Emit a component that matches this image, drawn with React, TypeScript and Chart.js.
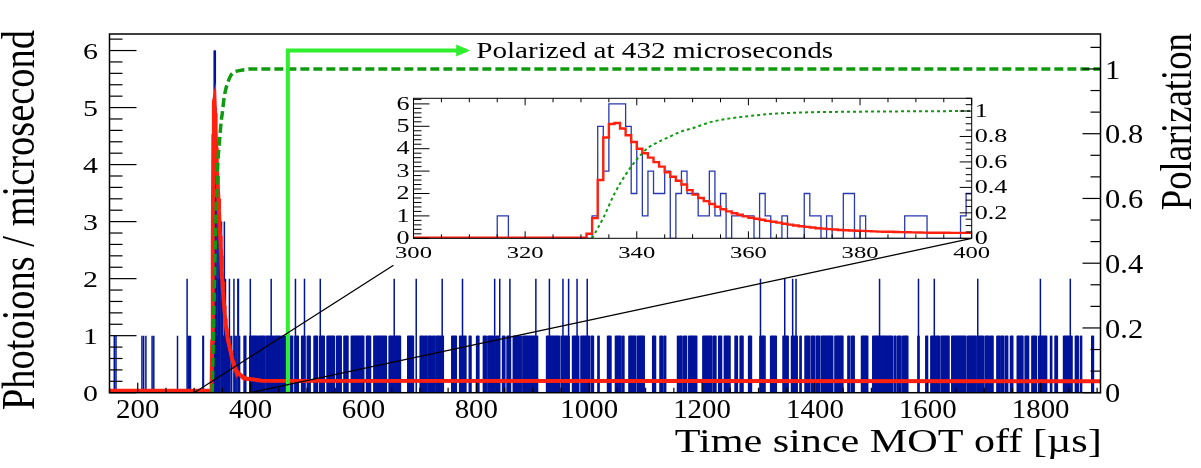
import React, { useEffect, useRef } from "react";
import { Chart, registerables } from "chart.js";

Chart.register(...registerables);

// ---------------- data ----------------
const X_MIN = 150;
const X_MAX = 1906;
const Y_MAX = 6.29;
const POL_MAX = 1.108;

const xTickValues = [200, 400, 600, 800, 1000, 1200, 1400, 1600, 1800];
const yTickValues = [0, 1, 2, 3, 4, 5, 6];
const polTickValues = [0, 0.2, 0.4, 0.6, 0.8, 1];
const polTickLabels = ["0", "0.2", "0.4", "0.6", "0.8", "1"];

const insetXTicks = [300, 320, 340, 360, 380, 400];
const insetYTicks = [0, 1, 2, 3, 4, 5, 6];
const insetPolTicks = [0, 0.2, 0.4, 0.6, 0.8, 1];
const insetPolLabels = ["0", "0.2", "0.4", "0.6", "0.8", "1"];

// photoion counts per 1 µs bin, 300..399 µs (the zoomed window)
const INSET_T0 = 300;
const INSET_T1 = 400;
const insetCounts = [
  0, 0, 0, 0, 0, 0, 0, 0, 0, 0, 0, 0, 0, 0, 0, 1, 1, 0, 0, 0,
  0, 0, 0, 0, 0, 0, 0, 0, 0, 0, 0, 0, 1, 5, 3, 6, 6, 6, 5, 2,
  4, 1, 3, 2, 2, 3, 0, 2, 3, 2, 2, 1, 1, 3, 1, 2, 0, 1, 1, 1,
  1, 0, 2, 1, 0, 0, 1, 0, 0, 0, 2, 1, 1, 0, 1, 0, 0, 2, 2, 0,
  1, 0, 0, 0, 0, 0, 0, 0, 1, 1, 1, 1, 0, 0, 0, 0, 0, 0, 1, 2,
];
// isolated single-count bins outside the window (µs)
const singleBins = [158, 161, 207, 210, 214, 225, 228, 270, 289, 291, 293];
// bins holding two photoions outside the window (µs)
const twoBins = [
  287, 436, 479, 495, 523, 654, 693, 739, 775, 832, 841, 859, 905, 929, 953, 963,
  978, 996, 1303, 1346, 1360, 1366, 1514, 1583, 1611, 1688, 1799, 1852,
];
// stretches of consecutive one-count bins [first, last] (µs)
const oneRuns: [number, number][] = [
  [400, 412], [414, 425], [427, 440], [442, 452], [454, 462], [470, 474], [478, 484],
  [490, 496], [500, 505], [512, 518], [522, 530], [535, 548], [552, 560], [565, 572],
  [578, 600], [605, 612], [618, 640], [645, 650], [651, 665], [678, 688], [700, 706],
  [708, 712], [714, 720], [722, 726], [728, 735], [736, 741], [756, 764], [770, 781],
  [787, 790], [800, 804], [812, 817], [820, 830], [834, 841], [846, 850], [854, 860],
  [865, 879], [882, 908], [924, 947], [950, 964], [970, 981], [985, 1000], [1003, 1007],
  [1015, 1017], [1032, 1038], [1046, 1056], [1059, 1061], [1070, 1082], [1085, 1097],
  [1112, 1117], [1125, 1129], [1132, 1135], [1156, 1158], [1160, 1164], [1167, 1172],
  [1176, 1190], [1201, 1217], [1220, 1224], [1229, 1234], [1239, 1249], [1258, 1262],
  [1267, 1272], [1282, 1287], [1302, 1311], [1321, 1331], [1343, 1352], [1358, 1368],
  [1373, 1375], [1382, 1390], [1393, 1399], [1402, 1408], [1411, 1431], [1435, 1449],
  [1458, 1461], [1464, 1469], [1482, 1493], [1502, 1537], [1540, 1543], [1546, 1552],
  [1555, 1564], [1582, 1584], [1596, 1599], [1605, 1620], [1623, 1637], [1642, 1667],
  [1670, 1685], [1687, 1698], [1701, 1709], [1711, 1715], [1722, 1727], [1729, 1734],
  [1737, 1741], [1746, 1750], [1758, 1768], [1772, 1778], [1784, 1792], [1796, 1810],
  [1817, 1819], [1825, 1829], [1840, 1855], [1861, 1866], [1870, 1872], [1890, 1893],
];

// fitted rate (photoions / µs)
const fitPreLevel = 0.035;
const fitDecayT0 = 330; // first µs of the per-µs fit values below
const fitDecay = [
  0.03, 0.2, 0.9, 2.6, 4.5, 5.1, 5.15, 4.9, 4.6, 4.3, 4.0, 3.8, 3.6, 3.4, 3.2, 2.95,
  2.75, 2.57, 2.4, 2.15, 1.95, 1.8, 1.66, 1.53, 1.41, 1.3, 1.2, 1.12, 1.05, 0.98, 0.92,
  0.87, 0.83, 0.78, 0.74, 0.7, 0.65, 0.61, 0.57, 0.54, 0.51, 0.48, 0.45, 0.43, 0.41,
  0.39, 0.37, 0.36, 0.35, 0.34, 0.33, 0.32, 0.31, 0.3, 0.295, 0.29, 0.28, 0.275, 0.27,
  0.265, 0.26, 0.255, 0.25, 0.25, 0.245, 0.245, 0.24, 0.24, 0.24, 0.24, 0.24,
];
const fitTailT = [420, 1906];
const fitTailY = [0.21, 0.2];

// polarization curve
const polT = [332, 334, 336, 338, 340, 342, 344, 346, 348, 350, 353, 356, 360, 365, 371, 380, 390, 400, 1906];
const polV = [0, 0.16, 0.35, 0.5, 0.62, 0.71, 0.76, 0.8, 0.84, 0.865, 0.91, 0.937, 0.96, 0.98, 0.99, 0.995, 0.998, 1.0, 1.0];

// "polarized" marker
const markerT = 466;
const markerLevel = 6.0;
const markerArrowEndT = 782;
const markerText = "Polarized at 432 microseconds";

// ---------------- styles ----------------
const FONT = '"Liberation Serif", "Times New Roman", serif';
const BLUE = "#00149a";
const BLUE_THIN = "#2838b0";
const RED = "#ff2010";
const DGREEN = "#0f9a0f";
const LGREEN = "#2eee2e";

// main layout (pixels on the 1201x468 page)
const MAIN_PAD = { left: 109.5, right: 100.5, top: 34, bottom: 75.3 };
// inset placement
const INSET_LEFT = 370;
const INSET_TOP = 88;
const INSET_W = 650;
const INSET_H = 180;
const INSET_PAD = { left: 43.5, right: 48.3, top: 10.3, bottom: 29.7 };

type TextOpts = {
  size: number;
  align?: CanvasTextAlign;
  baseline?: CanvasTextBaseline;
  sx?: number;
  sy?: number;
  rot?: number;
  width?: number;
};

function drawText(ctx: CanvasRenderingContext2D, s: string, x: number, y: number, o: TextOpts) {
  ctx.save();
  ctx.font = `${o.size}px ${FONT}`;
  let kx = o.sx ?? 1;
  if (o.width) kx = o.width / ctx.measureText(s).width;
  ctx.translate(x, y);
  if (o.rot) ctx.rotate(o.rot);
  ctx.scale(kx, o.sy ?? 1);
  ctx.textAlign = o.align ?? "center";
  ctx.textBaseline = o.baseline ?? "middle";
  ctx.fillStyle = "#000";
  ctx.fillText(s, 0, 0);
  ctx.restore();
}

function seg(ctx: CanvasRenderingContext2D, x1: number, y1: number, x2: number, y2: number) {
  ctx.beginPath();
  ctx.moveTo(x1, y1);
  ctx.lineTo(x2, y2);
  ctx.stroke();
}

function buildCounts(): number[] {
  const c = new Array(X_MAX - X_MIN).fill(0);
  for (const [a, b] of oneRuns) for (let t = a; t <= b; t++) c[t - X_MIN] = 1;
  for (const t of singleBins) c[t - X_MIN] = 1;
  for (const t of twoBins) c[t - X_MIN] = 2;
  insetCounts.forEach((v, i) => (c[INSET_T0 + i - X_MIN] = v));
  return c;
}

const mainDecor = {
  id: "mainDecor",
  afterDraw(chart: any) {
    const { ctx, chartArea: a, scales } = chart;
    const xs = scales.x, ys = scales.y, ps = scales.y2;
    ctx.save();

    // zoom connectors
    ctx.strokeStyle = "#000";
    ctx.lineWidth = 1.3;
    const iaL = INSET_LEFT + INSET_PAD.left;
    const iaR = INSET_LEFT + INSET_W - INSET_PAD.right;
    const iaB = INSET_TOP + INSET_H - INSET_PAD.bottom;
    seg(ctx, xs.getPixelForValue(INSET_T0), a.bottom, iaL - 20, iaB + 27);
    seg(ctx, xs.getPixelForValue(INSET_T1), a.bottom, iaR, iaB);

    // arrow head + label
    const ax = xs.getPixelForValue(markerArrowEndT);
    const ay = ys.getPixelForValue(markerLevel);
    ctx.fillStyle = LGREEN;
    ctx.beginPath();
    ctx.moveTo(ax + 4, ay);
    ctx.lineTo(ax - 10, ay - 6);
    ctx.lineTo(ax - 10, ay + 6);
    ctx.closePath();
    ctx.fill();
    drawText(ctx, markerText, ax + 10, ay + 1, { size: 24, align: "left", width: 357 });

    // frame
    ctx.strokeStyle = "#000";
    ctx.lineWidth = 1.5;
    ctx.strokeRect(a.left, a.top, a.right - a.left, a.bottom - a.top);

    // x ticks
    ctx.lineWidth = 1.2;
    for (let t = 150; t <= 1900; t += 50) {
      const x = xs.getPixelForValue(t);
      const len = t % 200 === 0 ? 10 : 5;
      seg(ctx, x, a.bottom, x, a.bottom - len);
    }
    // left y ticks
    for (let i = 0; i <= 31; i++) {
      const v = i * 0.2;
      if (v > Y_MAX) break;
      const y = ys.getPixelForValue(v);
      const len = i % 5 === 0 ? 27 : 13;
      seg(ctx, a.left, y, a.left + len, y);
    }
    // right polarization ticks
    for (let i = 0; i <= 16; i++) {
      const v = (i * 0.2) / 3;
      if (v > POL_MAX) break;
      const y = ps.getPixelForValue(v);
      const len = i % 3 === 0 ? 18 : 10;
      seg(ctx, a.right, y, a.right - len, y);
    }

    // tick labels
    for (const t of xTickValues)
      drawText(ctx, String(t), xs.getPixelForValue(t), 411, { size: 27, sx: 1.07 });
    for (const v of yTickValues)
      drawText(ctx, String(v), a.left - 11.5, ys.getPixelForValue(v) + 2.5, { size: 23, align: "right", sx: 1.3 });
    polTickValues.forEach((v, i) =>
      drawText(ctx, polTickLabels[i], a.right + 4.5, ps.getPixelForValue(v) + 2.5, { size: 27, align: "left", sx: 1.13 })
    );

    // titles
    drawText(ctx, "Time since MOT off [\u00b5s]", 1101.7, 451.7, {
      size: 33, align: "right", baseline: "alphabetic", width: 427,
    });
    drawText(ctx, "Photoions / microsecond", 22.5, 220, {
      size: 38, rot: -Math.PI / 2, width: 380, sy: 1.2,
    });
    drawText(ctx, "Polarization", 1180, 121.7, {
      size: 36.5, rot: -Math.PI / 2, width: 177, sy: 1.2,
    });
    ctx.restore();
  },
};

const insetDecor = {
  id: "insetDecor",
  beforeDraw(chart: any) {
    const { ctx, chartArea: a } = chart;
    ctx.save();
    ctx.fillStyle = "#fff";
    ctx.fillRect(a.left, a.top, a.right - a.left, a.bottom - a.top);
    ctx.restore();
  },
  afterDraw(chart: any) {
    const { ctx, chartArea: a, scales } = chart;
    const xs = scales.x, ys = scales.y, ps = scales.y2;
    ctx.save();
    ctx.strokeStyle = "#000";
    ctx.lineWidth = 1;
    ctx.strokeRect(a.left, a.top, a.right - a.left, a.bottom - a.top);
    for (let t = 300; t <= 400; t += 5) {
      const x = xs.getPixelForValue(t);
      const len = t % 20 === 0 ? 7 : 4;
      seg(ctx, x, a.top, x, a.top + len);
      seg(ctx, x, a.bottom, x, a.bottom - len);
    }
    for (let i = 0; i <= 31; i++) {
      const v = i * 0.2;
      if (v > 6.25) break;
      const y = ys.getPixelForValue(v);
      seg(ctx, a.left, y, a.left + (i % 5 === 0 ? 16 : 8), y);
    }
    for (let i = 0; i <= 22; i++) {
      const v = i * 0.05;
      if (v > 1.1) break;
      const y = ps.getPixelForValue(v);
      seg(ctx, a.right, y, a.right - (i % 4 === 0 ? 12 : 6), y);
    }
    for (const t of insetXTicks)
      drawText(ctx, String(t), xs.getPixelForValue(t), a.bottom + 15, { size: 17, sx: 1.45 });
    for (const v of insetYTicks)
      drawText(ctx, String(v), a.left - 4, ys.getPixelForValue(v) + 1, { size: 18, align: "right", sx: 1.45 });
    insetPolTicks.forEach((v, i) =>
      drawText(ctx, insetPolLabels[i], a.right + 3, ps.getPixelForValue(v) + 1, { size: 18, align: "left", sx: 1.45 })
    );
    ctx.restore();
  },
};

export default function App() {
  const mainRef = useRef<HTMLCanvasElement>(null);
  const insetRef = useRef<HTMLCanvasElement>(null);

  useEffect(() => {
    const counts = buildCounts();
    // one bar per non-empty 1 µs bin, centred in its bin
    const histBars = counts
      .map((v, i) => ({ x: X_MIN + i + 0.5, y: v }))
      .filter((p) => p.y > 0);

    const fitPts = [{ x: X_MIN, y: fitPreLevel }, { x: fitDecayT0 - 1, y: fitPreLevel }];
    fitDecay.forEach((v, i) => fitPts.push({ x: fitDecayT0 + i, y: v }));
    fitTailT.forEach((t, i) => fitPts.push({ x: t, y: fitTailY[i] }));

    const polPts = polT.map((t, i) => ({ x: t, y: polV[i] }));

    const markerPts = [
      { x: markerT, y: 0 },
      { x: markerT, y: markerLevel },
      { x: markerArrowEndT, y: markerLevel },
    ];

    const main = new Chart(mainRef.current!, {
      type: "line",
      data: {
        datasets: [
          {
            type: "bar", data: histBars, backgroundColor: BLUE, borderWidth: 0,
            barThickness: 1.5, grouped: false, inflateAmount: 0, order: 4, yAxisID: "y",
          },
          {
            data: fitPts, borderColor: RED, borderWidth: 4, pointRadius: 0, fill: false,
            order: 3, yAxisID: "y",
          },
          {
            data: polPts, borderColor: DGREEN, borderWidth: 3.5, borderDash: [9, 4],
            cubicInterpolationMode: "monotone", pointRadius: 0, fill: false, order: 2, yAxisID: "y2",
          },
          {
            data: markerPts, borderColor: LGREEN, borderWidth: 4, pointRadius: 0, fill: false,
            order: 1, yAxisID: "y",
          },
        ] as any,
      },
      options: {
        animation: false,
        responsive: false,
        devicePixelRatio: 1,
        events: [],
        layout: { padding: MAIN_PAD },
        scales: {
          x: { type: "linear", min: X_MIN, max: X_MAX, offset: false, display: false },
          y: { type: "linear", min: 0, max: Y_MAX, display: false },
          y2: { type: "linear", position: "right", min: 0, max: POL_MAX, display: false },
        },
        plugins: { legend: { display: false }, tooltip: { enabled: false } },
      } as any,
      plugins: [mainDecor],
    });

    // inset
    const insetHist = insetCounts.map((v, i) => ({ x: INSET_T0 + i, y: v }));
    insetHist.push({ x: INSET_T1, y: insetCounts[insetCounts.length - 1] });
    const insetFit = [{ x: INSET_T0, y: fitDecay[0] }];
    fitDecay.forEach((v, i) => insetFit.push({ x: fitDecayT0 + i, y: v }));
    const insetPol = polT.filter((t) => t <= INSET_T1).map((t, i) => ({ x: t, y: polV[i] }));

    const inset = new Chart(insetRef.current!, {
      type: "line",
      data: {
        datasets: [
          {
            data: insetHist, stepped: "before", borderColor: BLUE_THIN, borderWidth: 1.3,
            pointRadius: 0, fill: false, order: 3, yAxisID: "y",
          },
          {
            data: insetFit, stepped: "before", borderColor: RED, borderWidth: 2.4,
            pointRadius: 0, fill: false, order: 2, yAxisID: "y",
          },
          {
            data: insetPol, borderColor: DGREEN, borderWidth: 2, borderDash: [3, 3],
            cubicInterpolationMode: "monotone", pointRadius: 0, fill: false, order: 1, yAxisID: "y2",
          },
        ] as any,
      },
      options: {
        animation: false,
        responsive: false,
        devicePixelRatio: 1,
        events: [],
        layout: { padding: INSET_PAD },
        scales: {
          x: { type: "linear", min: INSET_T0, max: INSET_T1, display: false },
          y: { type: "linear", min: 0, max: 6.25, display: false },
          y2: { type: "linear", position: "right", min: 0, max: 1.1, display: false },
        },
        plugins: { legend: { display: false }, tooltip: { enabled: false } },
      } as any,
      plugins: [insetDecor],
    });

    return () => {
      main.destroy();
      inset.destroy();
    };
  }, []);

  return (
    <div style={{ position: "absolute", left: 0, top: 0, width: 1201, height: 468, background: "#fff" }}>
      <canvas ref={mainRef} width={1201} height={468} style={{ position: "absolute", left: 0, top: 0 }} />
      <canvas
        ref={insetRef}
        width={INSET_W}
        height={INSET_H}
        style={{ position: "absolute", left: INSET_LEFT, top: INSET_TOP }}
      />
    </div>
  );
}
